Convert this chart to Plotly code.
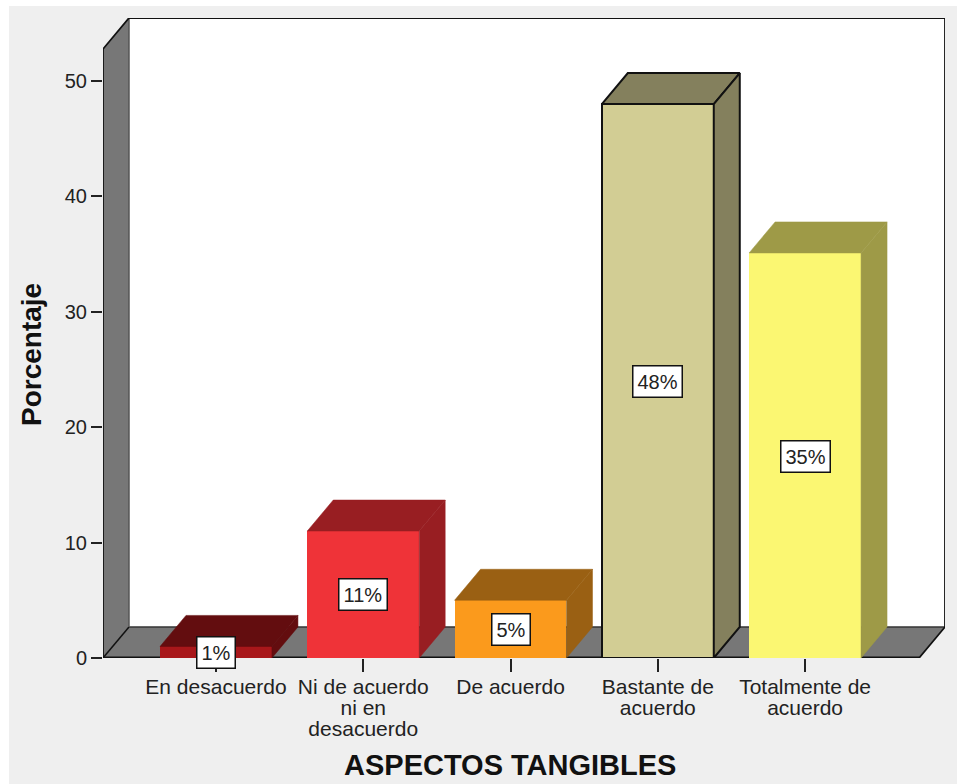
import plotly.graph_objects as go

categories = ["En desacuerdo", "Ni de acuerdo<br>ni en<br>desacuerdo", "De acuerdo", "Bastante de<br>acuerdo", "Totalmente de<br>acuerdo"]
values = [1, 11, 5, 48, 35.1]
labels = ["1%", "11%", "5%", "48%", "35%"]
front_colors = ["#A8171A", "#EF3338", "#FB9A1C", "#D2CD94", "#FBF772"]
depth_colors = ["#630D0F", "#981E22", "#9A6013", "#84805D", "#9E9A47"]
edge_colors = ["#A8171A", "#EF3338", "#FB9A1C", "#111111", "#FBF772"]
edge_widths = [0, 0, 0, 2, 0]
y_ticks = [0, 10, 20, 30, 40, 50]

# geometry of the pseudo-3D box, in data units
bar_width = 0.76
depth_x = 0.1765
depth_y = 2.69
x_left = -0.767
x_right = 4.95
y_top = 55.46
x_front_right = x_right - depth_x
y_front_top = y_top - depth_y
wall = "#777777"

fig = go.Figure()
ids = list(range(len(values)))
fig.add_bar(x=ids, y=values, width=bar_width, marker=dict(color=front_colors, line=dict(color=edge_colors, width=edge_widths)), hoverinfo="skip", showlegend=False)

for i, v in enumerate(values):
    l, r = i - bar_width / 2, i + bar_width / 2
    lw = edge_widths[i]
    col = edge_colors[i] if lw else depth_colors[i]
    fig.add_scatter(x=[l, l + depth_x, r + depth_x, r, l], y=[v, v + depth_y, v + depth_y, v, v], mode="lines", fill="toself", fillcolor=depth_colors[i], line=dict(color=col, width=lw or 0.5), hoverinfo="skip", showlegend=False)
    fig.add_scatter(x=[r, r + depth_x, r + depth_x, r, r], y=[v, v + depth_y, depth_y, 0, v], mode="lines", fill="toself", fillcolor=depth_colors[i], line=dict(color=col, width=lw or 0.5), hoverinfo="skip", showlegend=False)

# outer outline, not clipped at the plot edge
fig.add_scatter(x=[x_left, x_left, x_left + depth_x, x_right, x_right, x_front_right], y=[0, y_front_top, y_top, y_top, depth_y, 0], mode="lines", line=dict(color="#111111", width=1.8), cliponaxis=False, hoverinfo="skip", showlegend=False)

def poly(pts):
    return "M " + " L ".join(f"{x},{y}" for x, y in pts) + " Z"

shapes = [
    dict(type="rect", xref="paper", yref="paper", x0=-94 / 842, x1=(957 - 103) / 842, y0=-126 / 640, y1=(658 - 6) / 640, fillcolor="#EFEFEF", line_width=0, layer="below"),
    dict(type="path", path=poly([(x_left + depth_x, depth_y), (x_left + depth_x, y_top), (x_right, y_top), (x_right, depth_y)]), fillcolor="#FFFFFF", line_width=0, layer="below"),
    dict(type="path", path=poly([(x_left, 0), (x_left + depth_x, depth_y), (x_left + depth_x, y_top), (x_left, y_front_top)]), fillcolor=wall, line_width=0, layer="below"),
    dict(type="path", path=poly([(x_left, 0), (x_left + depth_x, depth_y), (x_right, depth_y), (x_front_right, 0)]), fillcolor=wall, line_width=0, layer="below"),
    dict(type="line", x0=x_left, x1=x_left + depth_x, y0=0, y1=depth_y, line=dict(color="#111111", width=1.5), layer="below"),
    dict(type="line", x0=x_left + depth_x, x1=x_right, y0=depth_y, y1=depth_y, line=dict(color="#333333", width=1.5), layer="below"),
    dict(type="line", x0=x_left + depth_x, x1=x_left + depth_x, y0=depth_y, y1=y_top, line=dict(color="#555555", width=1.5), layer="below"),
    dict(type="line", x0=x_left, x1=x_front_right, y0=0, y1=0, line=dict(color="#111111", width=3), layer="below"),
]

annotations = [
    dict(x=i, y=round(v) / 2, text=labels[i], showarrow=False, bgcolor="#FFFFFF", bordercolor="#111111", borderwidth=1.5, borderpad=4, font=dict(family="Liberation Sans", size=20, color="#222222"))
    for i, v in enumerate(values)
]
annotations += [
    dict(xref="paper", yref="paper", x=(510 - 103) / 842, y=-(765 - 658) / 640, xanchor="center", yanchor="middle", text="<b>ASPECTOS TANGIBLES</b>", showarrow=False, font=dict(family="Liberation Sans", size=29, color="#111111")),
    dict(xref="paper", yref="paper", x=(31 - 103) / 842, y=(658 - 355) / 640, xanchor="center", yanchor="middle", text="<b>Porcentaje</b>", textangle=-90, showarrow=False, font=dict(family="Liberation Sans", size=28, color="#111111")),
]

fig.update_layout(
    width=957, height=784, autosize=False,
    margin=dict(l=103, r=12, t=18, b=126, pad=0),
    paper_bgcolor="#FFFFFF", plot_bgcolor="rgba(0,0,0,0)",
    shapes=shapes, annotations=annotations, showlegend=False, bargap=0,
    font=dict(family="Liberation Sans", size=19, color="#222222"),
    xaxis=dict(range=[x_left, x_right], tickmode="array", tickvals=ids, ticktext=categories, ticks="outside", ticklen=13, tickwidth=1.5, tickcolor="#222222", showgrid=False, zeroline=False, showline=False, tickfont=dict(size=21), ticklabelstandoff=-3, automargin=False),
    yaxis=dict(range=[0, y_top], tickmode="array", tickvals=y_ticks, ticks="outside", ticklen=11, tickwidth=1.5, tickcolor="#222222", showgrid=False, zeroline=False, showline=False, tickfont=dict(size=20), automargin=False),
)

# tighter line spacing in the multi-line category labels (21 px, as in the reference)
script = """
document.body.style.margin='0';
document.querySelectorAll('.xtick text tspan.line').forEach(function(t){
  var d = parseFloat(t.getAttribute('dy') || '0');
  t.setAttribute('dy', (d / 1.3) + 'em');
});
"""
fig.write_html("out.html", post_script=script, config={"displayModeBar": False})
